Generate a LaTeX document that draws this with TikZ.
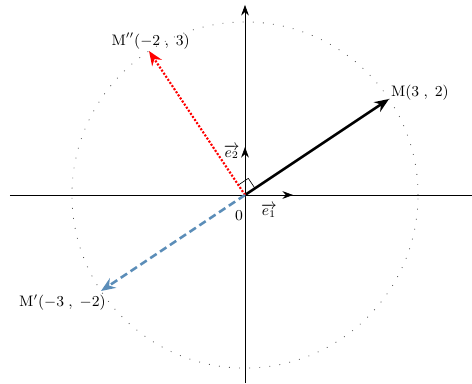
\documentclass[tikz,border=0pt]{standalone}
\usepackage{amsmath,amssymb}
\usepackage{tikz}
\usepackage{xcolor}
\usetikzlibrary{arrows.meta,positioning,calc}
\definecolor{ink}{HTML}{000000}
\definecolor{dotgray}{HTML}{555555}
\definecolor{vecred}{HTML}{FF0000}
\definecolor{vecblue}{HTML}{5B8DB8}
\tikzset{
  axisline/.style={line width=0.4pt,draw=ink},
  axisarr/.style={-{Stealth[length=2.2mm,width=1.6mm]},line width=0.4pt,draw=ink},
  basisarr/.style={-{Stealth[length=2.2mm,width=1.6mm]},line width=0.4pt,draw=ink},
  circdots/.style={draw=dotgray,line width=0.5pt,dash pattern=on 0.5pt off 5.5pt},
  vecM/.style={-{Stealth[length=3mm,width=2.4mm]},line width=1.5pt,draw=ink},
  vecMpp/.style={-{Stealth[length=3mm,width=2.4mm]},line width=1.3pt,draw=vecred,
                 dash pattern=on 1.2pt off 1pt},
  vecMp/.style={-{Stealth[length=3mm,width=2.4mm]},line width=1.5pt,draw=vecblue,
                dash pattern=on 4.5pt off 2.5pt},
  lbl/.style={font=\small,inner sep=1pt}
}

\begin{document}
\begin{tikzpicture}[x=1cm,y=1cm]
    \path[use as bounding box] (-5.104,-3.917) rectangle (4.729,4.0625);
    % points of the frame
    \coordinate (O) at (0,0);
    \coordinate (M) at (3,2);
    \coordinate (Mpp) at (-2,3);
    \coordinate (Mp) at (-3,-2);
    \coordinate (E1) at (1,0);
    \coordinate (E2) at (0,1);
    \coordinate (E1mid) at (0.5,0);
    \coordinate (E2low) at (0,0.9);
    \coordinate (xmin) at (-4.9,0);
    \coordinate (xmax) at (4.729,0);
    \coordinate (ymin) at (0,-3.917);
    \coordinate (ymax) at (0,3.96);
    % circle through the three points
    \draw[circdots] (O) circle ({sqrt(13)});
    % axes
    \draw[axisline] (xmin) -- (xmax);
    \draw[axisarr] (ymin) -- (ymax);
    % basis vectors
    \draw[basisarr] (O) -- (E1);
    \draw[basisarr] (O) -- (E2);
    \node[lbl,below=4pt of E1mid] (e1lbl) {$\overrightarrow{e_1}$};
    \node[lbl,left=2pt of E2low] (e2lbl) {$\overrightarrow{e_2}$};
    \node[lbl,below left=8pt and 0pt of O] (olbl) {$0$};
    % right angle between OM and OM''
    \coordinate (ra1) at ($(O)!0.25cm!(M)$);
    \coordinate (ra2) at ($(O)!0.25cm!(Mpp)$);
    \draw[line width=0.4pt,draw=ink] (ra1) -- ($(ra1)+(ra2)$) -- (ra2);
    % the three vectors
    \draw[vecM] (O) -- (M);
    \draw[vecMpp] (O) -- (Mpp);
    \draw[vecMp] (O) -- (Mp);
    \node[lbl,above right=-2pt and 0pt of M] (mlbl) {M$(3\;,\;2)$};
    \node[lbl,above=0pt of Mpp,xshift=1pt] (mpplbl) {M$''(-2\;,\;3)$};
    \node[lbl,below left=1pt and -4pt of Mp] (mplbl) {M$'(-3\;,\;-2)$};
\end{tikzpicture}
\end{document}
